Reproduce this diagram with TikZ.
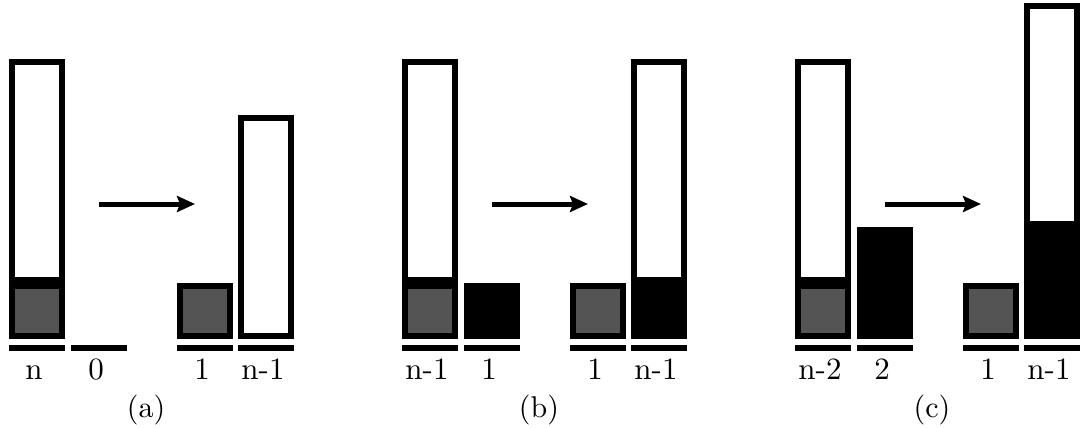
\documentclass[tikz,border=0pt]{standalone}
\usetikzlibrary{arrows.meta}
\definecolor{seedgray}{HTML}{545454}
\tikzset{
  frame/.style={draw=black, line width=5.6pt},
  emptybox/.style={frame, fill=white},
  seedbox/.style={frame, fill=seedgray},
  fullbox/.style={fill=black},
  basebar/.style={fill=black},
  lbl/.style={anchor=base, inner sep=0pt},
  captext/.style={anchor=base, inner sep=0pt},
  move/.style={line width=5pt, -{Stealth[length=18pt,width=16pt,inset=3pt]}},
}
% text set at 10pt and enlarged, keeping the weight of the 10pt design
\newcommand\bigtxt[1]{\scalebox{3.1}{#1}}
\newcommand\capt[1]{\scalebox{3.0}{#1}}
% outlined box given by its outer edges: left, top, right, bottom
\newcommand\obox[5]{\path[#1] ({#2+2.8},{#3+2.8}) rectangle ({#4-2.8},{#5-2.8});}
% one panel: the two columns before the move, the arrow, the two after
\newcommand\panel[6]{%
  % column A: seed square with the tall empty box on top
  \obox{emptybox}{0}{59}{56}{283}
  \obox{seedbox}{0}{283}{56}{339}
  % column C: lone seed square
  \obox{seedbox}{168}{283}{224}{339}
  % base bars
  \foreach \xa in {0,62,168,229} \fill[basebar] (\xa,345) rectangle (\xa+56,351);
  % labels under the bars
  \node[lbl] (#1-la) at (25,379) {\bigtxt{#2}};
  \node[lbl] (#1-lb) at (87,379) {\bigtxt{#3}};
  \node[lbl] (#1-lc) at (193,379) {\bigtxt{#4}};
  \node[lbl] (#1-ld) at (254,379) {\bigtxt{#5}};
  \node[captext] (#1-cap) at (137,417) {\capt{(#6)}};
  % the move
  \coordinate (#1-from) at (90,204);
  \coordinate (#1-to) at (186,204);
  \draw[move] (#1-from) -- (#1-to);
}
\begin{document}
\begin{tikzpicture}[x=1pt,y=-1pt]
\useasboundingbox (0,0) rectangle (1082,428);

\begin{scope}[xshift=9pt]
  \panel{a}{n}{0}{1}{n-1}{a}
  \obox{emptybox}{229}{115}{285}{339}
\end{scope}

\begin{scope}[xshift=402pt]
  \panel{b}{n-1}{1}{1}{n-1}{b}
  \fill[fullbox] (62,283) rectangle (118,339);
  \fill[fullbox] (229,283) rectangle (285,339);
  \obox{emptybox}{229}{59}{285}{283}
\end{scope}

\begin{scope}[xshift=795pt]
  \panel{c}{n-2}{2}{1}{n-1}{c}
  \fill[fullbox] (62,227) rectangle (118,339);
  \fill[fullbox] (229,227) rectangle (285,339);
  \obox{emptybox}{229}{3}{285}{227}
\end{scope}
\end{tikzpicture}
\end{document}
